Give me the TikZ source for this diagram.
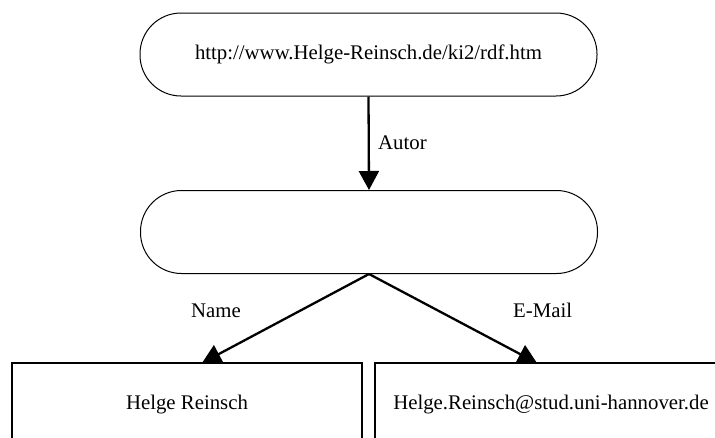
\documentclass[tikz,border=0pt]{standalone}
\usepackage{fontspec}
\setmainfont{Liberation Serif}
\usetikzlibrary{arrows.meta}
\begin{document}
\begin{tikzpicture}[x=1pt,y=-1pt,
  every node/.style={font=\fontsize{20.8}{24}\selectfont, inner sep=0pt},
  roundbox/.style={draw, line width=1pt, rounded corners=41pt, minimum width=457pt, minimum height=83pt},
  squarebox/.style={draw, line width=1.3pt, minimum height=84pt},
  conn/.style={line width=2.3pt, -{Triangle[length=19pt,width=20pt]}},
  lbl/.style={anchor=base west}
]
\path[use as bounding box, clip] (0,0) rectangle (715,437);
\node[roundbox] (top) at (368.5,54.5) {http://www.Helge-Reinsch.de/ki2/rdf.htm};
\node[roundbox] (mid) at (369,232) {};
\node[squarebox, minimum width=350pt] (nameb) at (187,405) {Helge Reinsch};
\node[squarebox, minimum width=352pt] (mailb) at (551,405) {Helge.Reinsch@stud.uni-hannover.de};
\coordinate (nt) at (202,363);
\coordinate (mt) at (537,363);
\draw[conn] (top.south) -- (mid.north);
\draw[conn] (mid.south) -- (nt);
\draw[conn] (mid.south) -- (mt);
\node[lbl] (la) at (378,149) {Autor};
\node[lbl] (ln) at (191,317) {Name};
\node[lbl] (le) at (513,317) {E-Mail};
\end{tikzpicture}
\end{document}
